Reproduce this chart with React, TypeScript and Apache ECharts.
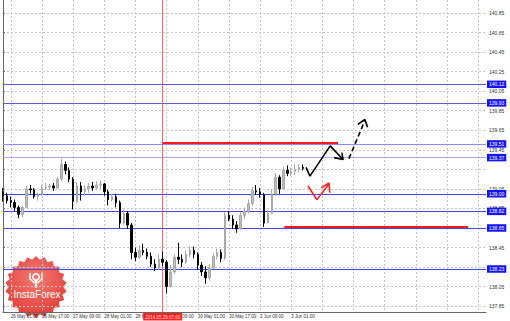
import React, { useEffect, useRef } from "react";
import * as echarts from "echarts";

// ---- data ----
const tickLabels = [
  "26 May 01:00", "26 May 17:00", "27 May 09:00", "28 May 01:00", "28 May 17:00",
  "29 May 09:00", "30 May 01:00", "30 May 17:00", "2 Jun 09:00", "3 Jun 01:00",
];
const firstLabelSlot = 2;
const labelStep = 8;
const slotCount = 125; // 2-hour slots incl. empty future area

const priceTicks = [
  137.85, 138.05, 138.25, 138.45, 138.65, 138.85, 139.05, 139.25,
  139.45, 139.65, 139.85, 140.05, 140.25, 140.45, 140.65, 140.85,
];
// tick labels that stay visible (the others sit under level boxes)
const priceTickLabels = [
  137.85, 138.05, 138.45, 138.85, 139.05,
  139.45, 139.65, 139.85, 140.05, 140.25, 140.45, 140.65, 140.85,
];

// [open, close, low, high], 2-hour bars
const bars = [
  [139.02, 138.98, 138.92, 139.06], [138.98, 138.93, 138.90, 139.01], [138.93, 138.91, 138.86, 138.97],
  [138.91, 138.86, 138.82, 138.94], [138.86, 138.79, 138.75, 138.88], [138.79, 138.86, 138.76, 138.88],
  [138.86, 139.05, 138.85, 139.08], [139.05, 139.04, 139.00, 139.09], [139.04, 138.97, 138.95, 139.06],
  [138.97, 138.99, 138.93, 139.01], [138.99, 139.06, 138.98, 139.09], [139.06, 139.07, 139.04, 139.11],
  [139.07, 139.08, 139.04, 139.10], [139.08, 139.06, 139.03, 139.11], [139.06, 139.15, 139.05, 139.17],
  [139.15, 139.30, 139.13, 139.36], [139.30, 139.24, 139.20, 139.33], [139.24, 139.15, 139.12, 139.27],
  [139.15, 138.92, 138.84, 139.17], [138.92, 139.08, 138.90, 139.12], [139.08, 139.02, 138.93, 139.12],
  [139.02, 139.05, 138.98, 139.09], [139.05, 139.08, 139.01, 139.11], [139.08, 139.06, 139.03, 139.12],
  [139.06, 139.09, 139.04, 139.13], [139.09, 139.10, 139.05, 139.14], [139.10, 139.02, 138.98, 139.11],
  [139.02, 138.94, 138.88, 139.04], [138.94, 138.97, 138.92, 139.00], [138.97, 138.91, 138.86, 139.00],
  [138.91, 138.70, 138.65, 138.93], [138.70, 138.80, 138.68, 138.84], [138.80, 138.68, 138.64, 138.82],
  [138.68, 138.40, 138.33, 138.70], [138.40, 138.35, 138.31, 138.45], [138.35, 138.42, 138.33, 138.47],
  [138.42, 138.40, 138.37, 138.49], [138.40, 138.36, 138.33, 138.44], [138.36, 138.28, 138.25, 138.40],
  [138.28, 138.24, 138.21, 138.33], [138.24, 138.33, 138.22, 138.38], [138.33, 138.30, 138.26, 138.41],
  [138.30, 138.05, 137.98, 138.32], [138.05, 138.20, 138.04, 138.27], [138.20, 138.35, 138.18, 138.38],
  [138.35, 138.33, 138.28, 138.50], [138.33, 138.30, 138.25, 138.38], [138.30, 138.38, 138.28, 138.42],
  [138.38, 138.42, 138.35, 138.46], [138.42, 138.38, 138.34, 138.46], [138.38, 138.27, 138.22, 138.40],
  [138.27, 138.20, 138.16, 138.30], [138.20, 138.14, 138.08, 138.26], [138.14, 138.24, 138.11, 138.28],
  [138.24, 138.36, 138.23, 138.39], [138.36, 138.40, 138.33, 138.44], [138.40, 138.34, 138.30, 138.43],
  [138.34, 138.78, 138.32, 138.81], [138.78, 138.74, 138.72, 138.82], [138.74, 138.68, 138.64, 138.78],
  [138.68, 138.64, 138.60, 138.72], [138.64, 138.78, 138.63, 138.81], [138.78, 138.82, 138.74, 138.86],
  [138.82, 138.90, 138.80, 138.94], [138.90, 139.03, 138.88, 139.07], [139.03, 139.02, 138.99, 139.09],
  [139.02, 138.99, 138.96, 139.06], [138.99, 138.70, 138.66, 139.01], [138.70, 138.80, 138.70, 138.83],
  [138.80, 139.00, 138.79, 139.04], [139.00, 139.17, 138.98, 139.21], [139.17, 139.05, 139.00, 139.19],
  [139.05, 139.24, 139.04, 139.28], [139.24, 139.21, 139.18, 139.29], [139.21, 139.23, 139.18, 139.27],
  [139.23, 139.25, 139.19, 139.30], [139.25, 139.27, 139.22, 139.30], [139.27, 139.26, 139.24, 139.30],
];

const levelValues = [140.12, 139.93, 139.51, 139.37, 139.0, 138.82, 138.65, 138.23];
const currentPrice = 139.26;
const markerSlot = 41;
const markerLabel = "2014.05.29 07:00";

const redSegment1 = [[41, 139.52], [86, 139.52]];
const redSegment2 = [[72.2, 138.66], [119.4, 138.66]];
const blackArrowBody = [[77.8, 139.27], [78.8, 139.18], [84.0, 139.49], [87.3, 139.35]];
const blackArrowHead = [[85.0, 139.37], [87.3, 139.35], [87.0, 139.42]];
const dashedArrowBody = [[88.8, 139.36], [92.9, 139.75]];
const dashedArrowHead = [[91.1, 139.71], [92.9, 139.76], [93.6, 139.68]];
const redArrowBody = [[78.3, 139.08], [80.6, 138.94], [83.7, 139.10]];
const redArrowHead = [[81.7, 139.06], [83.7, 139.11], [83.9, 139.01]];

// ---- styles ----
const levelColors = ["#5a5ad6", "#5a5ad6", "#8c8cff", "#aaaaff", "#4646ff", "#4646ff", "#4646ff", "#4646ff"];
const FONT = "Liberation Sans";

export default function App() {
  const ref = useRef<HTMLDivElement>(null);

  useEffect(() => {
    const chart = echarts.init(ref.current!, null, { renderer: "svg" });

    const categories: string[] = [];
    for (let i = 0; i < slotCount; i++) {
      const k = (i - firstLabelSlot) / labelStep;
      categories.push(i >= firstLabelSlot && Number.isInteger(k) && k < tickLabels.length ? tickLabels[k] : "");
    }

    const boxLabel = (bg: string) => ({
      show: true,
      position: "end",
      distance: 1,
      formatter: (p: any) => Number(p.value).toFixed(2),
      backgroundColor: bg,
      color: "#fff",
      fontSize: 5,
      fontFamily: FONT,
      padding: [1.5, 2, 1, 2],
    });

    const markData: any[] = levelValues.map((v, idx) => ({
      yAxis: v,
      lineStyle: { color: levelColors[idx], width: 1, type: "solid" },
      label: boxLabel("#1414ff"),
    }));
    markData.push({
      yAxis: currentPrice,
      lineStyle: { opacity: 0 },
      label: boxLabel("#000000"),
    });
    markData.push({
      xAxis: markerSlot,
      lineStyle: { color: "#ff4a4a", width: 1, type: "solid", opacity: 0.85 },
      label: {
        show: true,
        position: "start",
        distance: 1,
        formatter: markerLabel,
        backgroundColor: "#ff0000",
        color: "#fff",
        fontSize: 4.5,
        fontFamily: FONT,
        padding: [1.5, 2, 1, 2],
      },
    });

    const lineSeries = (data: number[][], color: string, width: number, dashed = false) => ({
      type: "line",
      xAxisIndex: 1,
      yAxisIndex: 0,
      data,
      symbol: "none",
      silent: true,
      z: 5,
      lineStyle: { color, width, type: dashed ? [5, 3] : "solid" },
    });

    // badge starburst
    const pts: number[][] = [];
    const teeth = 22;
    for (let k = 0; k < teeth * 2; k++) {
      const a = (Math.PI * k) / teeth - Math.PI / 2;
      const r = k % 2 === 0 ? 31 : 27.5;
      pts.push([Math.cos(a) * r, Math.sin(a) * r]);
    }

    chart.setOption({
      animation: false,
      backgroundColor: "#ffffff",
      grid: { left: 0, top: 0, right: 24, bottom: 9, containLabel: false },
      xAxis: [
        {
          type: "category",
          data: categories,
          boundaryGap: false,
          axisLine: { show: true, lineStyle: { color: "#666", width: 1 } },
          axisTick: { show: false },
          axisLabel: {
            interval: 0,
            align: "left",
            margin: 2,
            fontSize: 4.5,
            fontFamily: FONT,
            color: "#333",
          },
          splitLine: {
            show: true,
            interval: (i: number) => i >= firstLabelSlot && (i - firstLabelSlot) % labelStep === 0,
            lineStyle: { color: "#c4c4c4", type: [2, 2], width: 1 },
          },
        },
        { type: "value", min: 0, max: slotCount - 1, show: false },
      ],
      yAxis: {
        type: "value",
        position: "right",
        min: 137.79,
        max: 140.983,
        scale: true,
        axisLine: { show: true, lineStyle: { color: "#666", width: 1 } },
        axisTick: { show: true, length: 2, customValues: priceTicks, lineStyle: { color: "#666" } },
        axisLabel: {
          customValues: priceTickLabels,
          formatter: (v: number) => v.toFixed(2),
          fontSize: 5,
          fontFamily: FONT,
          color: "#333",
          margin: 3,
        },
        splitLine: { show: true, lineStyle: { color: "#c4c4c4", type: [2, 2], width: 1 } },
      },
      series: [
        {
          type: "candlestick",
          xAxisIndex: 0,
          yAxisIndex: 0,
          data: bars,
          barWidth: 2,
          z: 3,
          itemStyle: {
            color: "#bdbdbd",
            color0: "#000000",
            borderColor: "#a8a8a8",
            borderColor0: "#000000",
            borderWidth: 1,
          },
          markLine: {
            silent: true,
            symbol: "none",
            animation: false,
            z: 2,
            data: markData,
          },
        },
        lineSeries(redSegment1, "#ff1a1a", 2),
        lineSeries(redSegment2, "#ff1a1a", 2),
        lineSeries(blackArrowBody, "#000", 1.6),
        lineSeries(blackArrowHead, "#000", 1.6),
        lineSeries(dashedArrowBody, "#000", 1.6, true),
        lineSeries(dashedArrowHead, "#000", 1.6),
        lineSeries(redArrowBody, "#ff2020", 1.6),
        lineSeries(redArrowHead, "#ff2020", 1.6),
      ],
      graphic: [
        {
          type: "group",
          x: 36,
          y: 287,
          z: 100,
          children: [
            {
              type: "polygon",
              shape: { points: pts },
              style: {
                fill: new echarts.graphic.RadialGradient(0.5, 0.35, 0.7, [
                  { offset: 0, color: "#f47a72" },
                  { offset: 1, color: "#de3a34" },
                ]),
              },
            },
            { type: "circle", shape: { cx: 0, cy: -10, r: 3.2 }, style: { fill: "none", stroke: "#fff", lineWidth: 1.6 } },
            { type: "line", shape: { x1: 0, y1: -6.5, x2: 0, y2: 1 }, style: { stroke: "#fff", lineWidth: 2.4 } },
            { type: "polyline", shape: { points: [[-6, -14], [-6, -8], [-1.5, -4]] }, style: { stroke: "#fff", fill: "none", lineWidth: 1.6 } },
            { type: "polyline", shape: { points: [[6, -14], [6, -8], [1.5, -4]] }, style: { stroke: "#fff", fill: "none", lineWidth: 1.6 } },
            {
              type: "text",
              x: 1,
              y: 7,
              style: {
                text: "InstaForex",
                fill: "#fff",
                fontSize: 10,
                fontFamily: FONT,
                align: "center",
                verticalAlign: "middle",
              },
            },
          ],
        },
      ],
    });

    return () => chart.dispose();
  }, []);

  return (
    <div
      ref={ref}
      style={{ position: "fixed", left: 0, top: 0, width: 510, height: 321, background: "#fff" }}
    />
  );
}
